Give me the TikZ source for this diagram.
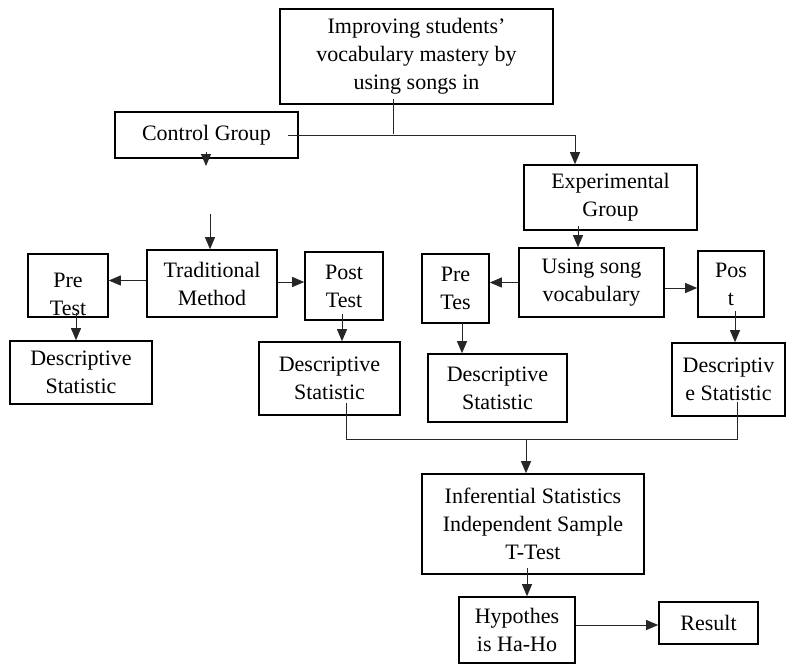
\documentclass[tikz,border=0pt]{standalone}
\usepackage{fontspec}
\setmainfont{Liberation Serif}
\usetikzlibrary{arrows.meta}
\tikzset{
  x=1pt, y=-1pt,
  box/.style={draw, line width=1.6pt, inner sep=0pt, align=center,
    font=\fontsize{22}{28}\selectfont},
  conn/.style={line width=0.9pt, draw=black!85},
  arr/.style={conn, -{Triangle[length=12pt,width=10pt]}}
}
\begin{document}
\begin{tikzpicture}
\useasboundingbox (0,0) rectangle (787,664);
% nodes
\node[box, minimum width=273pt, minimum height=95pt] (top) at (416.5,56.5) {Improving students’\\vocabulary mastery by\\using songs in};
\node[box, minimum width=183pt, minimum height=46pt] (cg) at (206.5,135) {Control Group};
\node[box, minimum width=173pt, minimum height=65pt] (exp) at (610.5,197.5) {Experimental\\Group};
\node[box, minimum width=130pt, minimum height=67pt] (trad) at (212,283.5) {Traditional\\Method};
\node[box, minimum width=80pt, minimum height=63pt] (pre1) at (68,285.5) {\rule{0pt}{32pt}Pre\\Test};
\node[box, minimum width=78pt, minimum height=68pt] (post1) at (344,286) {Post\\Test};
\node[box, minimum width=142pt, minimum height=63pt] (ds1) at (81,372.5) {Descriptive\\Statistic};
\node[box, minimum width=141pt, minimum height=73pt] (ds2) at (329.5,378.5) {Descriptive\\Statistic};
\node[box, minimum width=145pt, minimum height=69pt] (song) at (591.5,282.5) {Using song\\vocabulary};
\node[box, minimum width=67pt, minimum height=69pt] (pre2) at (455.5,288.5) {Pre\\Tes};
\node[box, minimum width=66pt, minimum height=66pt] (post2) at (731,284) {Pos\\t};
\node[box, minimum width=139pt, minimum height=68pt] (ds3) at (497.5,388) {Descriptive\\Statistic};
\node[box, minimum width=113pt, minimum height=73pt] (ds4) at (728.5,379.5) {Descriptiv\\e Statistic};
\node[box, minimum width=222pt, minimum height=100pt] (inf) at (533,524) {Inferential Statistics\\Independent Sample\\T-Test};
\node[box, minimum width=116pt, minimum height=66pt] (hyp) at (517,630) {Hypothes\\is Ha-Ho};
\node[box, minimum width=99pt, minimum height=42pt] (res) at (708.5,623) {Result};
% helper coordinates
\coordinate (jt) at (393,134);
\coordinate (ex) at (575,165);
\coordinate (ts) at (210,214);
\coordinate (cgd) at (206,152);
\coordinate (a1) at (76,313);
\coordinate (a2) at (342,314);
\coordinate (c1) at (578,226);
\coordinate (c2) at (462,323);
\coordinate (c3) at (735,311);
\coordinate (b1) at (346,403);
\coordinate (b2) at (737,402);
\coordinate (bj) at (526,439);
\coordinate (d1) at (527,568);
% connectors
\draw[conn] ([yshift=6pt]top.south -| jt) -- (jt);
\draw[arr] ([xshift=-11pt]cg.east) -| (exp.north -| ex);
\draw[arr] (cgd) -- ++(0,14);
\draw[arr] (ts) -- (ts |- trad.north);
\draw[arr] ([yshift=3pt]trad.west) -- ([yshift=3pt]trad.west -| pre1.east);
\draw[arr] ([yshift=1.5pt]trad.east) -- ([yshift=1.5pt]trad.east -| post1.west);
\draw[arr] (a1) -- (a1 |- ds1.north);
\draw[arr] (a2) -- (a2 |- ds2.north);
\draw[arr] (c1) -- (c1 |- song.north);
\draw[arr] (song.west) -- (song.west -| pre2.east);
\draw[arr] ([yshift=-5.5pt]song.east) -- ([yshift=-5.5pt]song.east -| post2.west);
\draw[arr] (c2) -- (c2 |- ds3.north);
\draw[arr] (c3) -- (c3 |- ds4.north);
\draw[conn] (b1) -- (b1 |- bj) -- (b2 |- bj) -- (b2);
\draw[arr] (bj) -- (bj |- inf.north);
\draw[arr] (d1) -- (d1 |- hyp.north);
\draw[arr] ([yshift=5pt]hyp.east) -- ([yshift=5pt]hyp.east -| res.west);
\end{tikzpicture}
\end{document}
